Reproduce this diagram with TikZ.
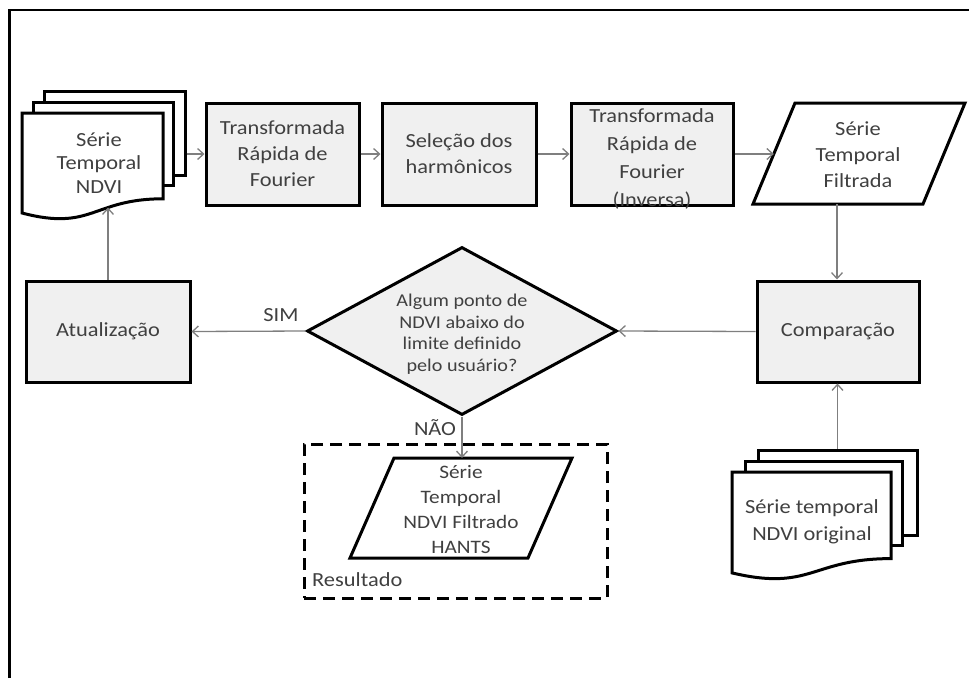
\documentclass[tikz,border=0pt]{standalone}
\usepackage{fontspec}
\setmainfont{Carlito}[FakeStretch=1.12]
\usetikzlibrary{arrows.meta,shapes.geometric}
\definecolor{txtc}{HTML}{404040}
\definecolor{boxfill}{HTML}{F0F0F0}
\definecolor{arrc}{HTML}{7F7F7F}
\begin{document}
\begin{tikzpicture}[x=1pt,y=-1pt,
  shapeline/.style={line width=3pt, draw=black},
  procbox/.style={shapeline, fill=boxfill, rectangle, inner sep=0pt, text=txtc, align=center, font=\fontsize{20}{26}\selectfont},
  docback/.style={shapeline, fill=white, rectangle, inner sep=0pt},
  lbl/.style={inner sep=0pt, text=txtc, align=center, font=\fontsize{20}{26}\selectfont},
  conn/.style={draw=arrc, line width=1.3pt, -{Straight Barb[length=6pt,width=11pt]}},
]
\useasboundingbox (0,0) rectangle (969,678);
% outer frame
\draw[line width=2.2pt] (9.5,678) -- (9.5,10) -- (969,10);

% left document stack
\node[docback, minimum width=141pt, minimum height=84pt] (dAb) at (114.5,133) {};
\node[docback, minimum width=140pt, minimum height=83pt] (dAm) at (103,143.5) {};
\draw[shapeline, fill=white] (22,113) -- (163,113) -- (163,198.8)
  .. controls (92.5,198.8) and (92.5,231.5) .. (22,213) -- cycle;
\coordinate (dAin) at (108,207.5);
\node[lbl, font=\fontsize{20}{23.5}\selectfont] (dA) at (99,163) {Série\\Temporal\\NDVI};

% process boxes
\node[procbox, minimum width=153pt, minimum height=102pt] (tf1) at (282.5,154) {Transformada\\Rápida de\\Fourier};
\node[procbox, minimum width=154pt, minimum height=102pt] (sel) at (459,154) {Seleção dos\\harmônicos};
\node[procbox, minimum width=162pt, minimum height=102pt] (tfi) at (652,154) {};
\node[lbl, font=\fontsize{20}{28}\selectfont] (tfiT) at (652,159) {Transformada\\Rápida de\\Fourier\\(Inversa)};

% parallelogram: filtered series
\coordinate (p1a) at (753,204);
\coordinate (p1b) at (795,103);
\coordinate (p1c) at (965,103);
\coordinate (p1d) at (923,204);
\draw[shapeline, fill=white] (p1a) -- (p1b) -- (p1c) -- (p1d) -- cycle;
\coordinate (p1in) at (773.8,154);
\coordinate (p1out) at (837,204);
\node[lbl] (filt) at (858,155) {Série\\Temporal\\Filtrada};

% comparison and update
\node[procbox, minimum width=162pt, minimum height=101pt] (comp) at (838,331.5) {Comparação};
\node[procbox, minimum width=164pt, minimum height=101pt] (atu) at (108,331.5) {Atualização};

% decision
\node[shapeline, fill=boxfill, diamond, minimum width=310pt, minimum height=168pt, inner sep=0pt] (dia) at (462,331) {};
\node[lbl, font=\fontsize{18}{21.5}\selectfont] (diaT) at (462,334) {Algum ponto de\\NDVI abaixo do\\limite definido\\pelo usuário?};

% result group
\node[draw, line width=3pt, dash pattern=on 12pt off 7pt, minimum width=303pt, minimum height=154pt, inner sep=0pt] (res) at (455.5,521) {};
\node[lbl, anchor=west] (resl) at (312,580) {Resultado};
\coordinate (p2a) at (350,558);
\coordinate (p2b) at (394,458);
\coordinate (p2c) at (572,458);
\coordinate (p2d) at (528,558);
\draw[shapeline, fill=white] (p2a) -- (p2b) -- (p2c) -- (p2d) -- cycle;
\coordinate (p2top) at (462,458);
\node[lbl, font=\fontsize{19}{25}\selectfont] (hants) at (461,509.5) {Série\\Temporal\\NDVI Filtrado\\HANTS};

% right document stack
\node[docback, minimum width=159pt, minimum height=85pt] (dBb) at (837.5,492.5) {};
\node[docback, minimum width=157pt, minimum height=84pt] (dBm) at (823.5,503) {};
\draw[shapeline, fill=white] (732,472) -- (891,472) -- (891,558.6)
  .. controls (811.5,558.6) and (811.5,591.6) .. (732,572.9) -- cycle;
\node[lbl, font=\fontsize{20}{27}\selectfont] (dB) at (812,521.5) {Série temporal\\NDVI original};

% connectors
\draw[conn] (dAb.east |- tf1.west) -- (tf1.west);
\draw[conn] (tf1.east) -- (sel.west);
\draw[conn] (sel.east) -- (tfi.west);
\draw[conn] (tfi.east) -- (p1in);
\draw[conn] (p1out) -- (p1out |- comp.north);
\draw[conn] (comp.west) -- (dia.east);
\draw[conn] (dia.west) -- (atu.east);
\draw[conn] (atu.north) -- (dAin);
\draw[conn] (dia.south) -- (p2top);
\draw[conn] (dBb.north) -- (dBb.north |- comp.south);

% labels
\node[lbl] (sim) at (281,315) {SIM};
\node[lbl] (nao) at (435,428) {NÃO};
\end{tikzpicture}
\end{document}
